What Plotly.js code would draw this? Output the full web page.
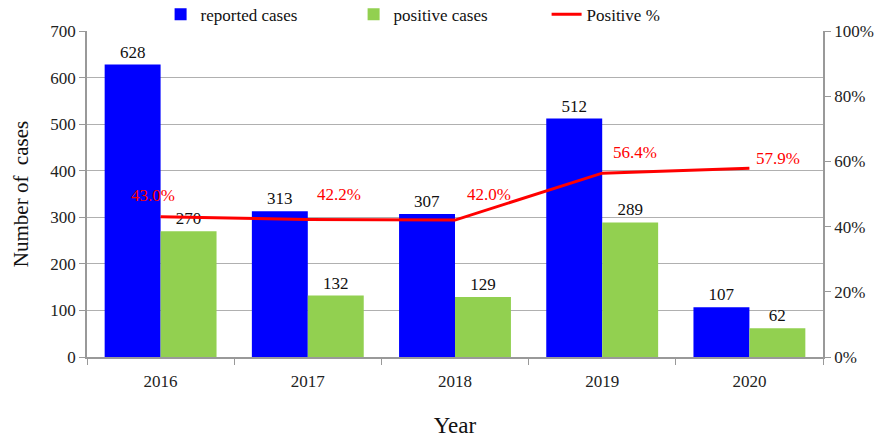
<!DOCTYPE html>
<html><head><meta charset="utf-8">
<script src="https://cdn.plot.ly/plotly-3.0.1.min.js"></script>
<style>body{margin:0;background:#fff}#c{width:885px;height:441px}</style>
</head><body><div id="c"></div>
<script>
const years = ['2016','2017','2018','2019','2020'];
const reported = [628, 313, 307, 512, 107];
const positive = [270, 132, 129, 289, 62];
const positivePct = [0.430, 0.422, 0.420, 0.564, 0.579];
const pctLabels = ['43.0%','42.2%','42.0%','56.4%','57.9%'];

const F = 'Liberation Serif, Times New Roman, serif';
// label placement offsets (styling)
const labelXShift = [-8, 31, 34, 33, 29];
const labelYShift = [21, 25, 26, 21, 10];

const traces = [
 {type:'bar', name:'reported cases', x:years, y:reported, marker:{color:'#0000FF'},
  text:reported.map(String), textposition:'outside', cliponaxis:false,
  textfont:{family:F,size:17,color:'#111'}},
 {type:'bar', name:'positive cases', x:years, y:positive, marker:{color:'#92D050'},
  text:positive.map(String), textposition:'outside', cliponaxis:false,
  textfont:{family:F,size:17,color:'#111'}},
 {type:'scatter', mode:'lines', name:'Positive %', x:years, y:positivePct, yaxis:'y2',
  line:{color:'#FF0000', width:3}, cliponaxis:false}
];
const annotations = years.map((yr,i)=>({
  x:i, y:positivePct[i], xref:'x', yref:'y2', text:pctLabels[i], showarrow:false,
  xshift:labelXShift[i], yshift:labelYShift[i],
  font:{family:F,size:17,color:'#FF0000'}
}));
const layout = {
 width:885, height:441, margin:{l:87, r:62, t:31, b:84, autoexpand:false},
 paper_bgcolor:'#fff', plot_bgcolor:'#fff',
 font:{family:F, size:17, color:'#222'},
 barmode:'group', bargap:0.24, bargroupgap:0,
 showlegend:true,
 legend:{orientation:'h', x:0.1, xanchor:'left', y:1.05, yanchor:'middle',
   bgcolor:'rgba(0,0,0,0)',
   font:{family:F,size:17,color:'#111'}, itemwidth:30, entrywidth:148, traceorder:'normal'},
 annotations:annotations,
 xaxis:{type:'category', range:[-0.5, years.length-0.5], autorange:false,
   showline:true, linecolor:'#999', linewidth:1.5,
   ticks:'outside', tickson:'boundaries', ticklen:6, tickcolor:'#999',
   ticklabelstandoff:8,
   tickfont:{family:F,size:17,color:'#222'},
   title:{text:'Year', font:{family:F,size:23,color:'#111'}, standoff:27}},
 yaxis:{range:[0,700], autorange:false, dtick:100, showline:true, linecolor:'#999', linewidth:1.5,
   ticks:'outside', ticklen:6, tickcolor:'#999', gridcolor:'#b0b0b0', gridwidth:1,
   zeroline:false, tickfont:{family:F,size:17,color:'#222'},
   title:{text:'Number of  cases', font:{family:F,size:21,color:'#111'}, standoff:16}},
 yaxis2:{overlaying:'y', side:'right', range:[0,1], autorange:false, dtick:0.2, tickformat:'.0%',
   showline:true, linecolor:'#999', linewidth:1.5, ticks:'outside', ticklen:6, tickcolor:'#999',
   showgrid:false, zeroline:false, tickfont:{family:F,size:17,color:'#222'}}
};
Plotly.newPlot('c', traces, layout, {displayModeBar:false});
</script></body></html>
